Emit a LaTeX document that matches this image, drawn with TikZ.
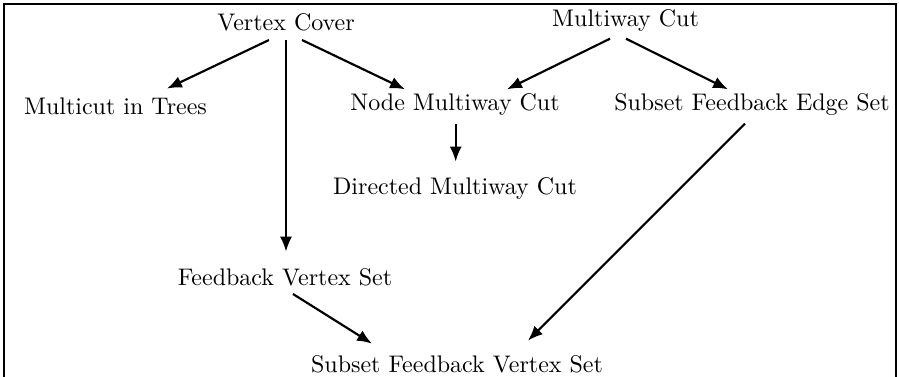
\documentclass[tikz,border=0pt]{standalone}
\usepackage{tikz}
\usetikzlibrary{arrows.meta,positioning,calc}

\begin{document}
\begin{tikzpicture}[x=0.4167pt,y=-0.4167pt,
    prob/.style={anchor=base,inner sep=3.33pt},
    red/.style={-{Latex[length=6.2pt,width=5pt]},line width=0.9pt}]
  % page frame (bottom edge falls outside)
  \useasboundingbox (0,0) rectangle (899,377);
  \draw[line width=0.5pt] (4,4) rectangle (896,395);
  % problems
  \node[prob] (vc)   at (286,30)   {Vertex Cover};
  \node[prob] (mc)   at (625.5,26) {Multiway Cut};
  \node[prob] (mt)   at (115.5,115) {Multicut in Trees};
  \node[prob] (nmc)  at (455,110)  {Node Multiway Cut};
  \node[prob] (sfes) at (752,110)  {Subset Feedback Edge Set};
  \node[prob] (dmc)  at (455,195)  {Directed Multiway Cut};
  \node[prob] (fvs)  at (285,285)  {Feedback Vertex Set};
  \node[prob] (sfvs) at (457,372)  {Subset Feedback Vertex Set};
  % reductions
  \draw[red] ($(vc.south)+(-17,1)$) -- ($(mt.north)+(51.5,-1.3)$);
  \draw[red] ($(vc.south)+(0,1)$) -- ($(fvs.north)+(1,-8)$);
  \draw[red] ($(vc.south)+(16,1)$) -- ($(nmc.north)+(-50,4.7)$);
  \draw[red] ($(mc.south)+(-15.5,-0.7)$) -- ($(nmc.north)+(52,4.7)$);
  \draw[red] ($(mc.south)+(0.5,-0.7)$) -- ($(sfes.north)+(-24,4.7)$);
  \draw[red] ($(nmc.south)+(0.7,0.3)$) -- ($(dmc.north)+(0.7,-8)$);
  \draw[red] ($(sfes.south)+(-7,0.3)$) -- ($(sfvs.north)+(71,-6)$);
  \draw[red] ($(fvs.south)+(8,0)$) -- ($(sfvs.north)+(-85,-3)$);
\end{tikzpicture}
\end{document}
